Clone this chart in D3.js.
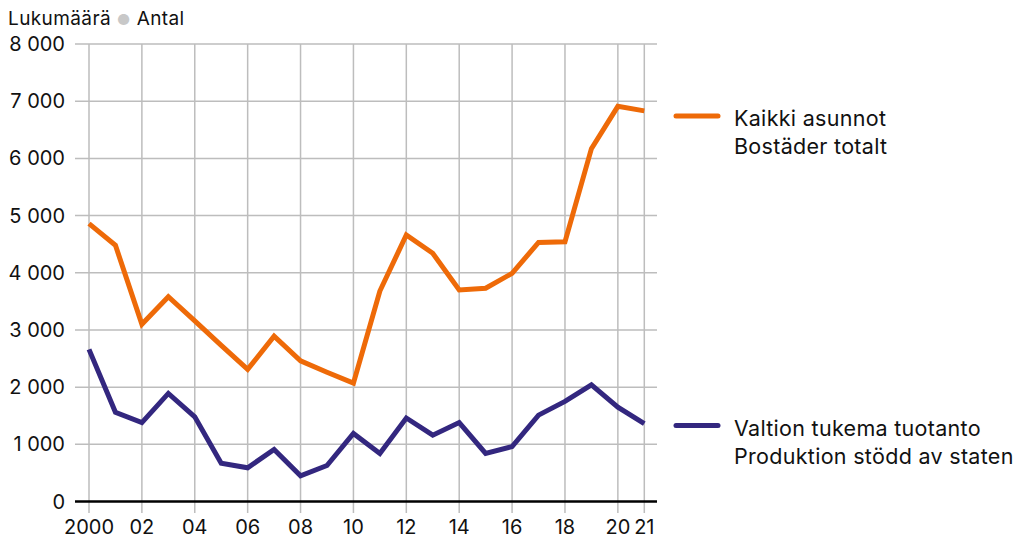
<!DOCTYPE html>
<html lang="fi">
<head>
  <meta charset="UTF-8" />
  <title>Lukumäärä</title>
  <script src="https://d3js.org/d3.v7.min.js"></script>
  <style>
    body { margin: 0; background: #fff; }
    svg { display: block; font-family: Inter, "Noto Sans", sans-serif; }
  </style>
</head>
<body>
  <svg id="chart" width="1024" height="538"></svg>
  <script>
    const years = d3.range(2000, 2022);
    const tickYears = [2000, 2002, 2004, 2006, 2008, 2010, 2012, 2014, 2016, 2018, 2020, 2021];
    const yTicks = [0, 1000, 2000, 3000, 4000, 5000, 6000, 7000, 8000];

    const kaikki = [4860, 4480, 3100, 3580, 3160, 2730, 2310, 2890, 2460, 2260, 2070,
                    3680, 4660, 4340, 3700, 3730, 3990, 4530, 4540, 6170, 6910, 6830];
    const valtio = [2660, 1560, 1380, 1890, 1480, 670, 590, 910, 450, 630, 1190,
                    840, 1460, 1160, 1380, 840, 960, 1510, 1750, 2040, 1650, 1360];

    const seriesNames = [
      ["Kaikki asunnot", "Bostäder totalt"],
      ["Valtion tukema tuotanto", "Produktion stödd av staten"]
    ];
    const colors = ["#ee6a08", "#33277f"];

    const svg = d3.select("#chart");

    const x = d3.scaleLinear().domain([2000, 2021]).range([89, 644.3]);
    const y = d3.scaleLinear().domain([0, 8000]).range([501.5, 44]);

    // title
    const title = svg.append("text")
      .attr("x", 8).attr("y", 25)
      .style("font-size", "19px")
      .style("letter-spacing", "0.4px")
      .attr("fill", "#111");
    title.append("tspan").text("Lukumäärä ");
    title.append("tspan").attr("fill", "#c8c8c8").style("font-size", "15px").text("●");
    title.append("tspan").text(" Antal");

    // horizontal grid
    svg.append("g")
      .selectAll("line")
      .data(yTicks.filter(d => d > 0))
      .join("line")
      .attr("x1", 75).attr("x2", 657)
      .attr("y1", d => y(d)).attr("y2", d => y(d))
      .attr("stroke", "#bdbdbd").attr("stroke-width", 1.5);

    // vertical grid
    svg.append("g")
      .selectAll("line")
      .data(tickYears)
      .join("line")
      .attr("x1", d => x(d)).attr("x2", d => x(d))
      .attr("y1", y(8000)).attr("y2", 513)
      .attr("stroke", "#bdbdbd").attr("stroke-width", 1.5);

    // y axis labels
    svg.append("g")
      .selectAll("text")
      .data(yTicks)
      .join("text")
      .attr("x", 65)
      .attr("y", d => y(d))
      .attr("dy", "0.35em")
      .attr("text-anchor", "end")
      .style("font-size", "20px")
      .attr("fill", "#111")
      .text(d => d === 0 ? "0" : d3.format(",")(d).replace(",", " "));

    // x axis labels
    svg.append("g")
      .selectAll("text")
      .data(tickYears)
      .join("text")
      .attr("x", d => x(d))
      .attr("y", 534)
      .attr("text-anchor", "middle")
      .style("font-size", "20px")
      .attr("fill", "#111")
      .text(d => d === 2000 ? "2000" : String(d).slice(2));

    // zero line
    svg.append("line")
      .attr("x1", 75).attr("x2", 657)
      .attr("y1", y(0)).attr("y2", y(0))
      .attr("stroke", "#000").attr("stroke-width", 2.5);

    const line = d3.line()
      .x((d, i) => x(years[i]))
      .y(d => y(d));

    [kaikki, valtio].forEach((vals, i) => {
      svg.append("path")
        .datum(vals)
        .attr("d", line)
        .attr("fill", "none")
        .attr("stroke", colors[i])
        .attr("stroke-width", 5)
        .attr("stroke-linejoin", "miter")
        .attr("stroke-linecap", "butt");
    });

    // legend
    const legendY = [116, 425.5];
    seriesNames.forEach((names, i) => {
      const g = svg.append("g").attr("transform", `translate(0,${legendY[i]})`);
      g.append("line")
        .attr("x1", 676).attr("x2", 718)
        .attr("y1", 0).attr("y2", 0)
        .attr("stroke", colors[i])
        .attr("stroke-width", 5)
        .attr("stroke-linecap", "round");
      names.forEach((t, j) => {
        g.append("text")
          .attr("x", 734)
          .attr("y", 10 + j * 28)
          .style("font-size", "21.5px")
          .style("letter-spacing", "0.3px")
          .attr("fill", "#111")
          .text(t);
      });
    });
  </script>
</body>
</html>
